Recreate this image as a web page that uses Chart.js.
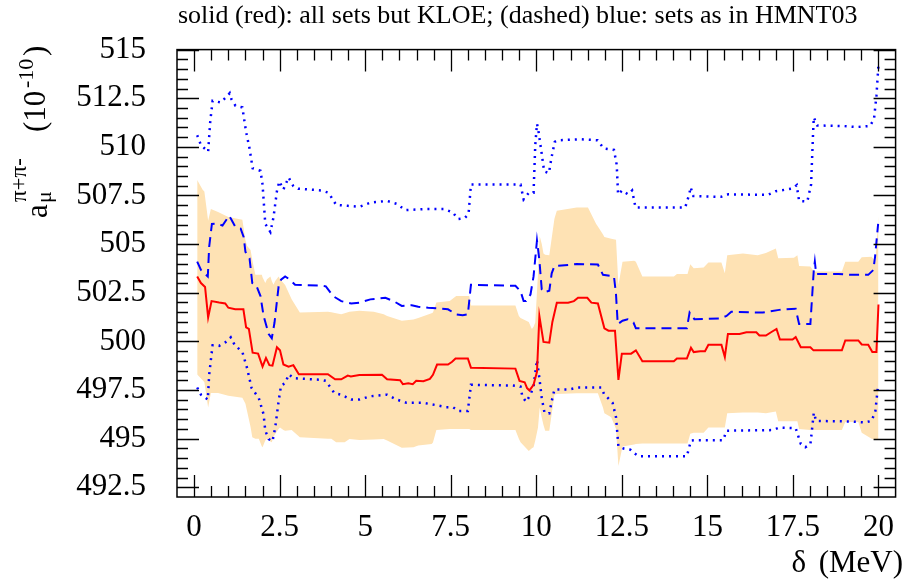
<!DOCTYPE html>
<html>
<head>
<meta charset="utf-8">
<script src="https://cdn.jsdelivr.net/npm/chart.js@4.4.1/dist/chart.umd.min.js"></script>
<style>
  body { margin: 0; background: #fff; }
</style>
</head>
<body>
<canvas id="chart" width="906" height="582"></canvas>
<script>
// delta (MeV) and a_mu values

// error band
const bandDelta = [0.09, 0.25, 0.3, 0.41, 0.49, 0.7, 1.0, 1.41, 1.5, 1.55, 1.65, 1.7, 1.79, 1.89, 1.98, 2.0, 2.08, 2.13, 2.23, 2.27, 2.32, 2.37, 2.47, 2.51, 2.61, 2.66, 2.85, 3.09, 3.91, 4.01, 4.15, 4.3, 4.4, 4.54, 4.83, 5.25, 5.54, 5.64, 6.07, 6.41, 6.55, 6.94, 6.98, 7.08, 7.47, 7.66, 8.04, 8.09, 9.39, 9.49, 9.54, 9.78, 9.87, 9.92, 9.97, 10.05, 10.1, 10.16, 10.21, 10.26, 10.38, 10.53, 10.6, 11.18, 11.51, 11.75, 11.8, 11.95, 11.99, 12.19, 12.33, 12.4, 12.52, 12.86, 12.91, 13.1, 14.02, 14.11, 14.42, 14.5, 14.6, 14.89, 15.03, 15.41, 15.51, 15.58, 16.04, 16.47, 16.71, 17.0, 17.07, 17.53, 17.63, 17.68, 18.01, 18.11, 18.93, 19.03, 19.41, 19.51, 19.8, 19.91, 20.0];
const bandHigh = [508.3, 507.8, 507.7, 506.2, 506.8, 506.65, 506.4, 506.25, 505.2, 504.9, 504.7, 504.2, 503.42, 503.42, 503.42, 503.3, 503.0, 503.2, 503.34, 503.1, 502.91, 503.1, 503.34, 503.2, 503.0, 502.9, 502.16, 501.48, 501.52, 501.5, 501.45, 501.39, 501.45, 501.52, 501.57, 501.52, 501.4, 501.3, 501.06, 501.12, 501.2, 501.45, 501.48, 502.0, 502.07, 502.33, 502.33, 501.85, 501.85, 501.31, 501.2, 501.0, 500.64, 500.75, 500.97, 503.5, 505.4, 505.0, 504.52, 504.45, 504.43, 506.3, 506.71, 506.88, 506.88, 506.04, 505.9, 505.5, 505.36, 505.27, 505.23, 502.9, 504.1, 504.15, 504.1, 503.34, 503.34, 503.46, 503.46, 503.96, 503.76, 503.8, 504.05, 504.05, 503.5, 504.43, 504.52, 504.43, 504.55, 504.77, 504.27, 504.3, 504.43, 503.88, 503.85, 503.59, 503.59, 504.1, 504.1, 504.32, 504.35, 504.1, 506.46];
const bandLow = [498.3, 498.0, 497.9, 496.6, 497.35, 497.35, 497.2, 497.1, 496.8, 496.4, 495.6, 495.07, 495.0, 495.0, 494.6, 494.56, 494.9, 495.0, 494.85, 494.81, 495.1, 495.24, 495.5, 495.57, 495.45, 495.41, 495.45, 495.07, 495.0, 495.0, 494.81, 494.81, 494.81, 494.98, 494.93, 494.95, 494.98, 494.9, 494.53, 494.56, 494.65, 494.73, 494.8, 495.44, 495.49, 495.49, 495.49, 495.44, 495.44, 495.0, 494.81, 494.36, 494.5, 494.56, 494.9, 495.57, 496.6, 496.08, 495.7, 495.41, 495.41, 497.26, 497.3, 497.34, 497.34, 497.34, 497.34, 496.59, 496.3, 496.1, 495.5, 493.6, 494.6, 494.7, 494.72, 494.75, 494.75, 494.75, 494.75, 495.25, 495.3, 495.3, 495.57, 495.57, 495.57, 496.3, 496.35, 496.35, 496.3, 496.4, 495.9, 495.9, 495.9, 495.5, 495.45, 495.45, 495.45, 495.85, 495.85, 495.3, 495.0, 494.95, 494.95];

// solid red: all sets but KLOE
const redDelta = [0.09, 0.2, 0.32, 0.41, 0.51, 0.73, 0.91, 1.0, 1.2, 1.44, 1.52, 1.6, 1.71, 1.87, 2.0, 2.1, 2.2, 2.29, 2.42, 2.51, 2.61, 2.76, 2.9, 3.06, 3.91, 4.12, 4.3, 4.49, 4.58, 4.83, 5.49, 5.64, 6.02, 6.1, 6.26, 6.39, 6.49, 6.7, 6.89, 6.98, 7.1, 7.42, 7.54, 7.64, 8.0, 8.09, 9.39, 9.51, 9.66, 9.73, 9.8, 9.92, 10.02, 10.09, 10.21, 10.38, 10.47, 10.6, 10.93, 11.1, 11.22, 11.49, 11.61, 11.8, 11.99, 12.11, 12.3, 12.4, 12.5, 12.77, 12.91, 13.1, 14.02, 14.11, 14.4, 14.52, 14.6, 14.79, 14.93, 15.03, 15.41, 15.51, 15.6, 15.94, 16.14, 16.43, 16.52, 16.71, 16.86, 17.02, 17.12, 17.49, 17.58, 17.73, 18.01, 18.1, 18.93, 19.03, 19.41, 19.51, 19.7, 19.82, 19.94, 20.0];
const redVal = [503.34, 503.0, 502.8, 501.23, 502.07, 502.0, 501.95, 501.73, 501.65, 501.65, 500.72, 500.64, 499.42, 499.37, 498.7, 499.15, 498.78, 498.75, 499.7, 499.54, 498.81, 498.7, 498.78, 498.31, 498.31, 498.05, 498.05, 498.24, 498.2, 498.27, 498.28, 498.05, 498.0, 497.8, 497.85, 497.8, 497.97, 497.95, 498.07, 498.28, 498.81, 498.81, 498.95, 499.12, 499.12, 498.65, 498.6, 497.97, 497.9, 497.6, 497.48, 497.77, 498.44, 501.3, 499.97, 499.93, 501.0, 501.99, 501.99, 502.07, 502.24, 502.24, 501.99, 501.95, 500.67, 500.55, 500.55, 498.02, 499.37, 499.37, 499.54, 498.98, 498.98, 499.12, 499.12, 499.67, 499.45, 499.49, 499.49, 499.83, 499.83, 499.2, 500.38, 500.38, 500.47, 500.47, 500.3, 500.3, 500.47, 500.64, 500.1, 500.1, 500.22, 499.7, 499.7, 499.54, 499.54, 500.05, 500.05, 499.84, 499.83, 499.45, 499.45, 501.9];

// dashed blue: sets as in HMNT03
const blueDelta = [0.09, 0.2, 0.4, 0.44, 0.52, 0.67, 0.83, 1.02, 1.08, 1.21, 1.36, 1.45, 1.5, 1.62, 1.7, 1.81, 1.94, 2.03, 2.18, 2.27, 2.35, 2.47, 2.54, 2.66, 2.8, 2.95, 3.72, 3.85, 4.06, 4.3, 4.59, 4.83, 5.15, 5.59, 5.83, 6.07, 6.36, 6.55, 6.84, 7.23, 7.42, 7.66, 7.85, 8.0, 8.09, 9.39, 9.54, 9.63, 9.7, 9.83, 9.92, 10.02, 10.09, 10.16, 10.22, 10.38, 10.45, 10.53, 10.93, 11.18, 11.8, 11.95, 12.27, 12.33, 12.38, 12.52, 12.67, 12.84, 12.91, 14.4, 14.48, 14.62, 15.37, 15.56, 15.7, 16.62, 17.1, 17.58, 17.68, 18.01, 18.11, 18.14, 18.18, 18.83, 19.22, 19.7, 19.85, 19.9, 19.99];
const blueVal = [504.1, 503.67, 503.34, 504.86, 506.04, 506.06, 505.95, 506.46, 506.29, 505.87, 505.8, 505.36, 504.6, 504.27, 503.0, 502.91, 502.33, 501.31, 500.38, 500.16, 500.97, 502.83, 503.17, 503.34, 503.17, 502.91, 502.86, 502.83, 502.33, 502.07, 501.95, 501.99, 502.16, 502.24, 502.07, 501.82, 501.86, 501.78, 501.73, 501.68, 501.65, 501.39, 501.35, 501.39, 502.91, 502.86, 502.58, 502.07, 502.07, 502.41, 503.34, 505.19, 504.18, 502.66, 502.52, 502.6, 503.5, 503.88, 503.93, 503.98, 503.95, 503.42, 503.34, 502.41, 500.89, 501.06, 501.14, 500.97, 500.67, 500.67, 501.48, 501.14, 501.18, 501.31, 501.52, 501.48, 501.62, 501.68, 500.89, 500.89, 503.67, 504.1, 503.47, 503.47, 503.42, 503.42, 503.67, 504.35, 506.04];

// dotted blue: upper and lower edge of the HMNT03 band
const upDelta = [0.09, 0.2, 0.41, 0.47, 0.54, 0.78, 0.97, 1.04, 1.09, 1.21, 1.41, 1.52, 1.62, 1.71, 1.94, 2.0, 2.08, 2.23, 2.32, 2.42, 2.49, 2.61, 2.76, 2.9, 3.04, 3.72, 3.93, 4.15, 4.49, 4.83, 5.15, 5.64, 5.92, 6.17, 6.7, 7.32, 7.56, 7.71, 7.9, 8.02, 8.09, 9.54, 9.63, 9.78, 9.92, 9.97, 10.02, 10.06, 10.15, 10.23, 10.37, 10.44, 10.54, 10.64, 11.31, 11.79, 11.97, 12.27, 12.35, 12.39, 12.51, 12.68, 12.8, 12.9, 14.35, 14.47, 14.51, 14.59, 15.4, 15.61, 16.76, 17.0, 17.49, 17.61, 17.68, 17.92, 18.03, 18.09, 18.11, 18.21, 18.98, 19.36, 19.75, 19.87, 19.94, 20.0];
const upVal = [510.6, 510.09, 509.75, 511.27, 512.37, 512.28, 512.62, 512.76, 512.45, 512.11, 512.03, 510.76, 509.92, 508.9, 508.77, 508.06, 506.04, 505.62, 506.38, 507.72, 508.23, 507.81, 508.43, 507.98, 507.85, 507.76, 507.64, 507.02, 506.97, 506.92, 507.13, 507.22, 507.07, 506.75, 506.8, 506.8, 506.63, 506.29, 506.33, 506.54, 508.06, 508.06, 507.3, 507.64, 507.64, 510.09, 511.19, 510.85, 509.75, 508.74, 508.65, 509.41, 510.26, 510.34, 510.39, 510.34, 509.92, 509.84, 509.08, 507.56, 507.76, 507.56, 507.76, 506.88, 506.88, 507.56, 507.93, 507.47, 507.43, 507.56, 507.53, 507.72, 507.86, 508.03, 507.22, 507.19, 508.06, 510.76, 511.52, 511.1, 511.07, 511.02, 511.07, 511.44, 512.62, 514.22];
const lowDelta = [0.09, 0.2, 0.4, 0.44, 0.54, 0.73, 0.92, 1.07, 1.19, 1.41, 1.55, 1.68, 1.89, 2.03, 2.08, 2.18, 2.29, 2.37, 2.47, 2.54, 2.66, 2.77, 2.9, 3.72, 3.85, 4.1, 4.3, 4.59, 4.83, 5.15, 5.64, 5.92, 6.21, 6.7, 7.08, 7.37, 7.56, 7.74, 8.0, 8.09, 9.3, 9.54, 9.59, 9.7, 9.83, 9.92, 10.02, 10.09, 10.16, 10.24, 10.38, 10.45, 10.53, 10.93, 11.22, 11.9, 11.98, 12.23, 12.33, 12.4, 12.57, 12.75, 12.88, 13.0, 14.4, 14.52, 14.64, 15.46, 15.56, 16.91, 17.1, 17.58, 17.73, 17.86, 18.01, 18.11, 18.18, 19.22, 19.6, 19.8, 19.91, 19.99];
const lowVal = [497.63, 497.26, 497.01, 498.28, 499.8, 499.77, 499.96, 500.21, 499.8, 499.46, 498.61, 497.6, 497.09, 496.25, 495.41, 494.98, 494.86, 495.57, 496.92, 497.73, 497.85, 498.31, 498.11, 498.02, 497.97, 497.34, 497.26, 497.01, 497.01, 497.18, 497.26, 497.01, 496.84, 496.84, 496.72, 496.62, 496.62, 496.42, 496.42, 497.77, 497.73, 497.68, 497.18, 496.89, 497.26, 497.68, 499.05, 498.11, 497.09, 496.33, 496.3, 496.92, 497.52, 497.52, 497.63, 497.63, 497.29, 496.84, 496.1, 494.6, 494.48, 494.43, 494.23, 494.09, 494.09, 494.9, 494.92, 494.92, 495.41, 495.44, 495.57, 495.54, 494.73, 494.56, 494.7, 496.33, 495.91, 495.88, 495.83, 495.91, 496.42, 497.77];

const xTicks = [0, 2.5, 5, 7.5, 10, 12.5, 15, 17.5, 20];
const yTicks = [492.5, 495, 497.5, 500, 502.5, 505, 507.5, 510, 512.5, 515];

const titleText = "solid (red): all sets but KLOE; (dashed) blue: sets as in HMNT03";
const serif = "'Liberation Serif', 'Times New Roman', serif";
Chart.defaults.font.family = serif;

const pts = (xs, ys) => xs.map((d, i) => ({ x: d, y: ys[i] }));

const blue = "rgb(0,0,255)";
const bandColor = "rgb(254,226,180)";

// frame, inward ticks and the text ROOT-style
const rootFrame = {
  id: "rootFrame",
  afterDraw(chart) {
    const { ctx, chartArea: a, scales: { x, y } } = chart;
    ctx.save();
    ctx.strokeStyle = "#000";
    ctx.lineWidth = 1.5;
    ctx.strokeRect(a.left, a.top, a.right - a.left, a.bottom - a.top);

    ctx.lineWidth = 1.3;
    ctx.beginPath();
    for (let i = 0; i <= 40; i++) {
      const v = i * 0.5;
      const px = Math.round(x.getPixelForValue(v)) + 0.5;
      const len = i % 5 === 0 ? 22 : 11;
      ctx.moveTo(px, a.bottom); ctx.lineTo(px, a.bottom - len);
      ctx.moveTo(px, a.top); ctx.lineTo(px, a.top + len);
    }
    for (let i = 1; i <= 46; i++) {
      const v = 492 + i * 0.5;
      const py = Math.round(y.getPixelForValue(v)) + 0.5;
      const len = i % 5 === 1 ? 22 : 11;
      ctx.moveTo(a.left, py); ctx.lineTo(a.left + len, py);
      ctx.moveTo(a.right, py); ctx.lineTo(a.right - len, py);
    }
    ctx.stroke();

    ctx.fillStyle = "#000";
    ctx.textBaseline = "alphabetic";
    ctx.font = "26px " + serif;
    ctx.textAlign = "left";
    ctx.fillText(titleText, 178, 23);

    ctx.font = "31px " + serif;
    ctx.textAlign = "right";
    ctx.fillText("(MeV)", 903, 572);
    ctx.fillText("\u03b4", 806, 572);

    // y title: a_mu^{pi+pi-} (10^{-10}), rotated
    ctx.translate(47, 218);
    ctx.rotate(-Math.PI / 2);
    ctx.textAlign = "left";
    ctx.font = "31px " + serif;
    ctx.fillText("a", 0, 0);
    ctx.font = "22px " + serif;
    ctx.fillText("\u03bc", 15, 4);
    ctx.font = "23px " + serif;
    ctx.fillText("\u03c0+\u03c0-", 16, -21);
    ctx.font = "31px " + serif;
    ctx.fillText("(10", 86, -2);
    ctx.font = "22px " + serif;
    ctx.fillText("-10", 130, -14);
    ctx.font = "31px " + serif;
    ctx.fillText(")", 162, -2);
    ctx.restore();
  }
};

new Chart(document.getElementById("chart"), {
  type: "line",
  data: {
    datasets: [
      { data: pts(redDelta, redVal), borderColor: "rgb(255,0,0)", borderWidth: 2, order: 0 },
      { data: pts(blueDelta, blueVal), borderColor: blue, borderWidth: 2, borderDash: [10, 6], order: 1 },
      { data: pts(upDelta, upVal), borderColor: blue, borderWidth: 2.5, borderDash: [2, 5], order: 2 },
      { data: pts(lowDelta, lowVal), borderColor: blue, borderWidth: 2.5, borderDash: [2, 5], order: 3 },
      { data: pts(bandDelta, bandHigh), borderWidth: 0, borderColor: bandColor, backgroundColor: bandColor, fill: "+1", order: 8 },
      { data: pts(bandDelta, bandLow), borderWidth: 0, borderColor: bandColor, fill: false, order: 9 }
    ]
  },
  options: {
    responsive: false,
    animation: false,
    events: [],
    layout: { padding: { top: 43, right: 1, left: 0, bottom: 0 } },
    elements: { point: { radius: 0 }, line: { tension: 0 } },
    plugins: { legend: { display: false }, tooltip: { enabled: false }, title: { display: false } },
    scales: {
      x: {
        type: "linear",
        min: -0.5,
        max: 20.5,
        afterFit: (s) => { s.height = 85; },
        afterBuildTicks: (s) => { s.ticks = xTicks.map((v) => ({ value: v })); },
        grid: { display: false, drawTicks: false },
        border: { display: false },
        ticks: { color: "#000", font: { family: serif, size: 31 }, padding: 12, maxRotation: 0, callback: (v) => String(v) }
      },
      y: {
        type: "linear",
        min: 492,
        max: 515,
        afterFit: (s) => { s.width = 177; },
        afterBuildTicks: (s) => { s.ticks = yTicks.map((v) => ({ value: v })); },
        grid: { display: false, drawTicks: false },
        border: { display: false },
        ticks: { color: "#000", font: { family: serif, size: 31 }, padding: 31, callback: (v) => String(v) }
      }
    }
  },
  plugins: [rootFrame]
});
</script>
</body>
</html>
